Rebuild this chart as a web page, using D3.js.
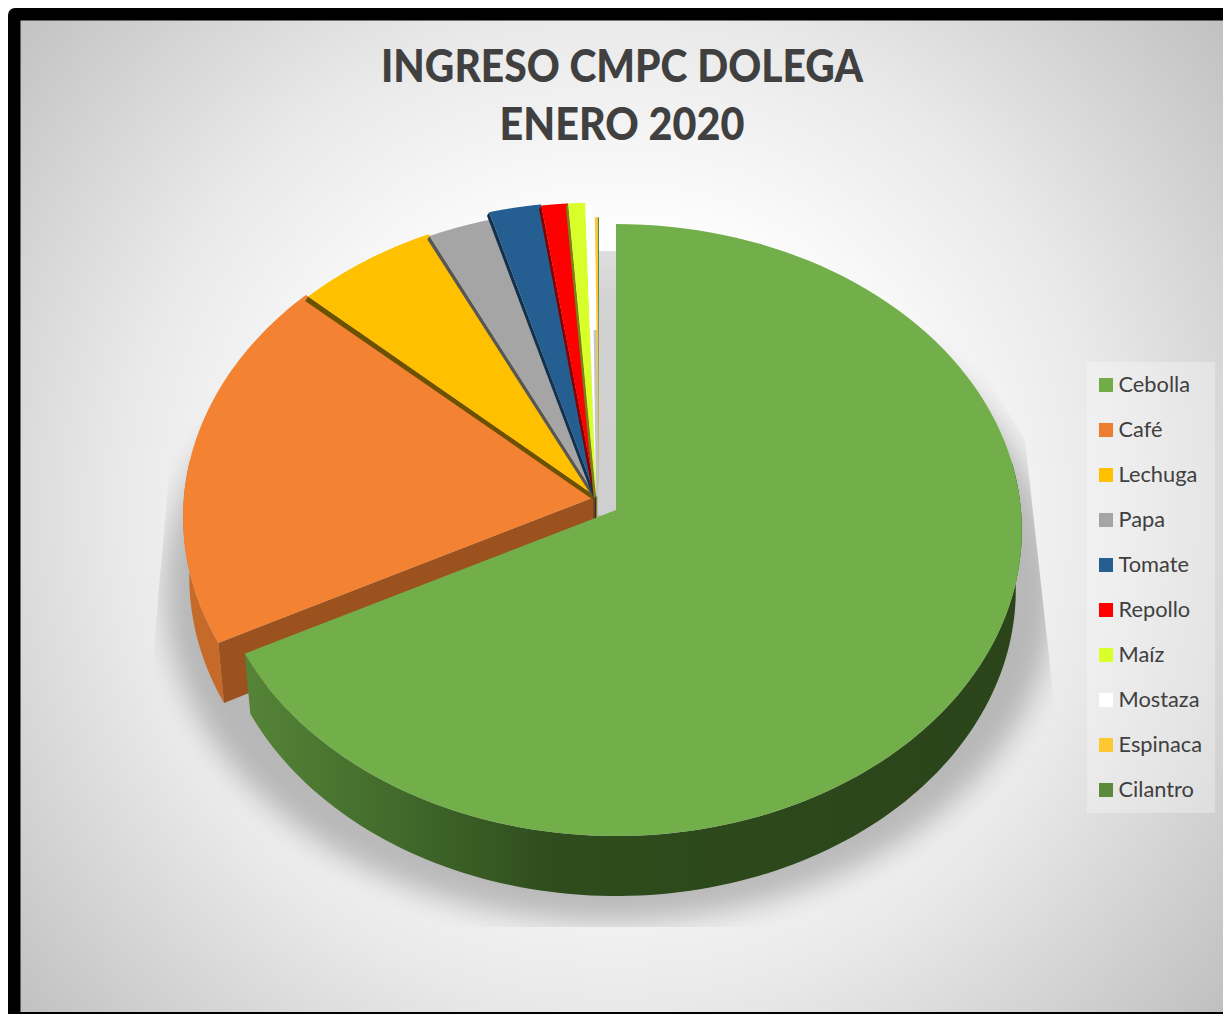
<!DOCTYPE html>
<html><head><meta charset="utf-8">
<script src="https://cdnjs.cloudflare.com/ajax/libs/d3/7.8.5/d3.min.js"></script>
<style>html,body{margin:0;padding:0;background:#fff;overflow:hidden}svg{display:block}</style>
</head><body><svg id="c" width="1223" height="1014"></svg>
<script>
const categories = ["Cebolla","Café","Lechuga","Papa","Tomate","Repollo","Maíz","Mostaza","Espinaca","Cilantro"];
const seriesValues = [67.4,19.4,6.0,2.75,2.15,1.1,0.7,0.27,0.12,0.05];
const topColors = ["#72af4a","#f38232","#ffc000","#a5a5a5","#255e91","#ff0000","#d9ff2b","#ffffff","#ffc832","#5b8a3c"];
const legendColors = ["#70ad47","#ed7d31","#ffc000","#a5a5a5","#255e91","#ff0000","#d9ff2b","#ffffff","#ffc832","#5b8a3c"];
const titleLines = ["INGRESO CMPC DOLEGA","ENERO 2020"];

const svg = d3.select("#c"), defs = svg.append("defs");
const FONT = "Lato, 'Open Sans', sans-serif";
const Q = 0.0654, DEPTH = 60, WALLX = 0.985;
const greenGeo = {cx:616, cy:510, rx:405, ry:304.7};
const restGeo  = {cx:596, cy:496.5, rx:412, ry:310.6};
const tinyGeo  = {cx:599, cy:497, rx:412, ry:298};
// small per-slice radial differences of the exploded slices
const pull = [1,1,0.992,0.985,1.012,1.008,1.008,1,1,1];

function project(g, a, r, low){
  const X = r*Math.sin(a), Y = -r*Math.cos(a), w = 1 - Q*Y;
  const k = low ? WALLX : 1;
  return [g.cx + k*g.rx*X/w, g.cy + g.ry*Y/w + (low ? DEPTH : 0)];
}
const line = d3.line();
const angles = (a0,a1) => d3.range(0,121).map(i => a0+(a1-a0)*i/120);

// background
const bg = defs.append("radialGradient").attr("id","bg").attr("gradientUnits","userSpaceOnUse")
  .attr("cx",615).attr("cy",510).attr("r",800);
[[0,"#ffffff"],[0.33,"#ffffff"],[0.62,"#e9e9e9"],[1,"#bebebe"]].forEach(s=>bg.append("stop").attr("offset",s[0]).attr("stop-color",s[1]));
svg.append("rect").attr("x",8).attr("y",8).attr("width",1300).attr("height",1100).attr("rx",7).attr("fill","#000");
svg.append("rect").attr("x",20.5).attr("y",20.5).attr("width",1300).attr("height",991.5).attr("fill","url(#bg)");

// shadow
defs.append("filter").attr("id","blur").attr("x","-20%").attr("y","-20%").attr("width","140%").attr("height","140%")
  .append("feGaussianBlur").attr("stdDeviation",14);
defs.append("clipPath").attr("id","shClip").append("path")
  .attr("d",line([[230,330],[172,440],[150,690],[150,927],[1060,927],[1056,720],[1025,440],[960,330]])+"Z");
svg.append("g").attr("clip-path","url(#shClip)").append("ellipse")
  .attr("cx",610).attr("cy",590).attr("rx",445).attr("ry",332)
  .attr("fill","#000").attr("opacity",0.23).attr("filter","url(#blur)");

// light-grey gap behind the top of the pie
const gap = defs.append("linearGradient").attr("id","gap").attr("x1",0).attr("x2",0).attr("y1",0).attr("y2",1);
[[0,"#dedede"],[0.2,"#d2d2d2"],[1,"#cfcfcf"]].forEach(s=>gap.append("stop").attr("offset",s[0]).attr("stop-color",s[1]));
svg.append("rect").attr("x",598).attr("y",251).attr("width",20).attr("height",264).attr("fill","url(#gap)");

const slices = d3.pie().sort(null).value(d=>d)(seriesValues);
const geoOf = i => i===0 ? greenGeo : i>=8 ? tinyGeo : restGeo;
const pieG = svg.append("g");

// Café wall + top
{
  const s = slices[1], g = restGeo;
  const aLeft = 1.5*Math.PI, as = d3.range(0,61).map(i=>s.startAngle+(aLeft+0.12-s.startAngle)*i/60);
  pieG.append("path").attr("d",line([...as.map(a=>project(g,a,1)),...as.slice().reverse().map(a=>project(g,a,1,true))])+"Z").attr("fill","#c56a28");
  const o = project(g,s.startAngle,1), ol = project(g,s.startAngle,1,true);
  pieG.append("path").attr("d",line([[g.cx,g.cy],o,ol,[g.cx,g.cy+DEPTH]])+"Z").attr("fill","#9c521e");
  pieG.append("path").attr("d",line([[g.cx,g.cy],...angles(s.startAngle,s.endAngle).map(a=>project(g,a,1))])+"Z").attr("fill",topColors[1]);
}

// upper thin slices with their dark edge walls
for(let i=2;i<=9;i++){
  const s = slices[i], g = geoOf(i), col = d3.color(topColors[i]), r = pull[i];
  const pts = angles(s.startAngle,s.endAngle).map(a=>project(g,a,r));
  const c = [g.cx,g.cy];
  if(i<7){
    const dark = col.darker(i===2 ? 2.4 : 1.8).formatHex();
    const o = project(g,s.startAngle,r);
    const dx = i===2 ? 3 : 2.2, dy = i===2 ? 4.5 : 3.5;
    pieG.append("path").attr("d",line([c,o,[o[0]-dx,o[1]+dy],[c[0]-dx,c[1]+dy*0.7]])+"Z").attr("fill",dark);
    pieG.append("rect").attr("x",c[0]-3+(i-2)*0.8).attr("y",c[1]).attr("width",1).attr("height",DEPTH).attr("fill",dark);
  }
  pieG.append("path").attr("d",line([c,...pts])+"Z").attr("fill",col.formatHex());
}

// Cebolla wall + top
{
  const s = slices[0], g = greenGeo;
  const wg = defs.append("linearGradient").attr("id","wall").attr("gradientUnits","userSpaceOnUse")
    .attr("x1",246).attr("x2",1022).attr("y1",0).attr("y2",0);
  [[0,"#558437"],[0.2,"#41692b"],[0.4,"#2e4c1c"],[1,"#2b441a"]].forEach(t=>wg.append("stop").attr("offset",t[0]).attr("stop-color",t[1]));
  const as = d3.range(0,121).map(i=>s.endAngle+(0.45*Math.PI-s.endAngle)*i/120);
  pieG.append("path").attr("d",line([...as.map(a=>project(g,a,1)),...as.slice().reverse().map(a=>project(g,a,1,true))])+"Z").attr("fill","url(#wall)");
  pieG.append("path").attr("d",line([[g.cx,g.cy],...angles(s.startAngle,s.endAngle).map(a=>project(g,a,1))])+"Z").attr("fill",topColors[0]);
}

// title
const titleWidths = [482,245];
svg.append("g").selectAll("text").data(titleLines).join("text")
  .attr("x",622).attr("y",(d,i)=>82+i*58).attr("text-anchor","middle")
  .attr("textLength",(d,i)=>titleWidths[i]).attr("lengthAdjust","spacingAndGlyphs")
  .attr("font-family",FONT).attr("font-weight",900).attr("font-size",45).attr("fill","#404040").text(d=>d);

// legend
const legY = d3.scalePoint().domain(categories).range([385,790]);
const leg = svg.append("g");
leg.append("rect").attr("x",1087).attr("y",362).attr("width",128).attr("height",451).attr("fill","#fff").attr("opacity",0.3);
const item = leg.selectAll("g").data(categories).join("g").attr("transform",d=>`translate(0,${legY(d)})`);
item.append("rect").attr("x",1099).attr("y",-7).attr("width",14).attr("height",14).attr("fill",(d,i)=>legendColors[i]);
item.append("text").attr("x",1118.5).attr("y",7).attr("font-family",FONT).attr("font-size",21.8).attr("fill","#404040").text(d=>d);
</script></body></html>
